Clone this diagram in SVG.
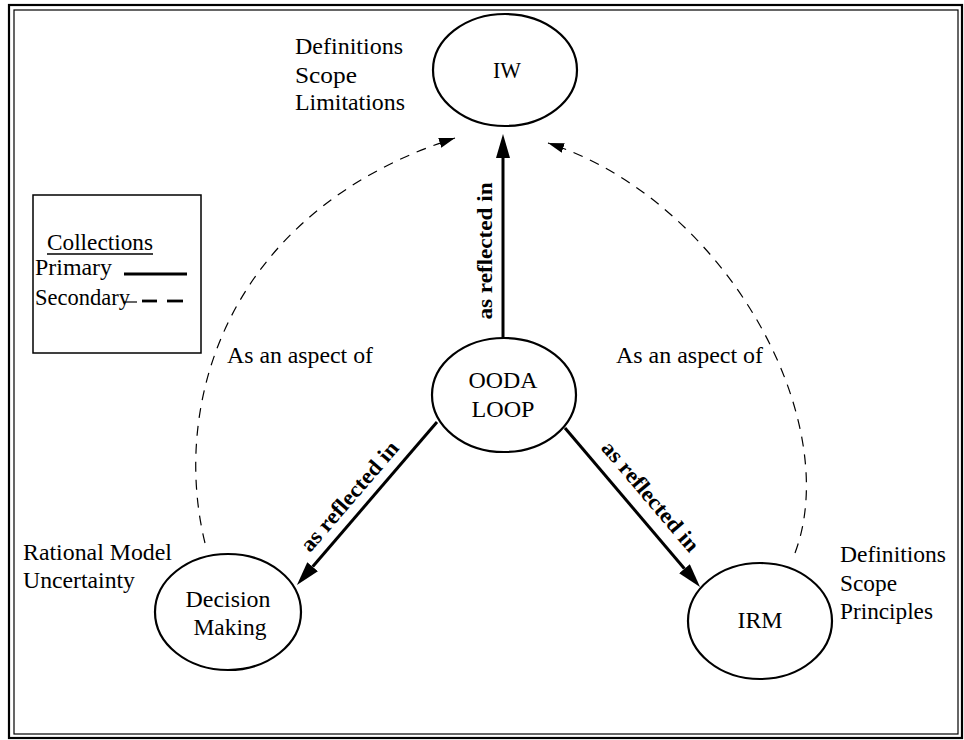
<svg xmlns="http://www.w3.org/2000/svg" width="964" height="740" viewBox="0 0 964 740">
<style>
  text { font-family: "Liberation Serif", "Times New Roman", Times, serif; font-size: 22.5px; fill: #000; }
  .lbl { font-weight: bold; font-size: 22px; }
  .node ellipse { fill: #fff; stroke: #000; stroke-width: 2.2; }
  .solid { fill: none; stroke: #000; stroke-width: 3; }
  .dash { fill: none; stroke: #000; stroke-width: 1.2; stroke-dasharray: 10 8; }
  .frame { fill: none; stroke: #000; }
</style>
<defs>
  <marker id="headSolid" markerUnits="userSpaceOnUse" markerWidth="26" markerHeight="16" refX="0" refY="7" orient="auto">
    <path d="M0,0 L24,7 L0,14 Z" fill="#000"/>
  </marker>
  <marker id="headDash" markerUnits="userSpaceOnUse" markerWidth="18" markerHeight="12" refX="16" refY="5" orient="auto">
    <path d="M0,0 L16,5 L0,10 Z" fill="#000"/>
  </marker>
</defs>
<rect width="964" height="740" fill="#fff"/>
<g id="frame">
  <rect class="frame" x="9" y="5" width="953" height="733" stroke-width="2.2"/>
  <rect class="frame" x="14" y="10" width="944" height="724" stroke-width="1.2"/>
</g>
<g id="legend">
  <rect x="33" y="195" width="168" height="158" fill="none" stroke="#000" stroke-width="1.5"/>
  <text x="47" y="250" textLength="106" lengthAdjust="spacingAndGlyphs">Collections</text>
  <line x1="47" y1="254" x2="153" y2="254" stroke="#000" stroke-width="1.5"/>
  <text x="35" y="275" textLength="77" lengthAdjust="spacingAndGlyphs">Primary</text>
  <line x1="124" y1="274" x2="187" y2="274" stroke="#000" stroke-width="2.8"/>
  <text x="35" y="305" textLength="95" lengthAdjust="spacingAndGlyphs">Secondary</text>
  <line x1="123" y1="302" x2="137" y2="302" stroke="#000" stroke-width="1.2"/>
  <line x1="142" y1="301" x2="157" y2="301" stroke="#000" stroke-width="2.8"/>
  <line x1="167" y1="301" x2="183" y2="301" stroke="#000" stroke-width="2.8"/>
</g>
<g id="connectors">
  <line class="solid" x1="503" y1="338" x2="503" y2="158" marker-end="url(#headSolid)"/>
  <line class="solid" x1="437" y1="422" x2="312.6" y2="566.8" marker-end="url(#headSolid)"/>
  <line class="solid" x1="565" y1="428" x2="684.5" y2="568.7" marker-end="url(#headSolid)"/>
  <path class="dash" d="M205,543 C170,400 230,210 455,138" marker-end="url(#headDash)"/>
  <path class="dash" d="M795,553 C845,420 725,200 548,143" marker-end="url(#headDash)"/>
  <text class="lbl" transform="translate(492,251) rotate(-90)" text-anchor="middle" textLength="137" lengthAdjust="spacingAndGlyphs">as reflected in</text>
  <text class="lbl" transform="translate(355,501) rotate(-49.3)" text-anchor="middle" textLength="138" lengthAdjust="spacingAndGlyphs">as reflected in</text>
  <text class="lbl" transform="translate(645,501) rotate(49.7)" text-anchor="middle" textLength="138" lengthAdjust="spacingAndGlyphs">as reflected in</text>
  <text x="227" y="363" textLength="146" lengthAdjust="spacingAndGlyphs">As an aspect of</text>
  <text x="616" y="363" textLength="147" lengthAdjust="spacingAndGlyphs">As an aspect of</text>
</g>
<g id="node-iw" class="node">
  <ellipse cx="505" cy="70" rx="72" ry="56"/>
  <text x="507" y="78" text-anchor="middle" textLength="28" lengthAdjust="spacingAndGlyphs">IW</text>
  <text x="295" y="54" textLength="108" lengthAdjust="spacingAndGlyphs">Definitions</text>
  <text x="295" y="83" textLength="62" lengthAdjust="spacingAndGlyphs">Scope</text>
  <text x="295" y="110" textLength="110" lengthAdjust="spacingAndGlyphs">Limitations</text>
</g>
<g id="node-ooda" class="node">
  <ellipse cx="504" cy="395" rx="72" ry="57"/>
  <text x="503" y="388" text-anchor="middle" textLength="69" lengthAdjust="spacingAndGlyphs">OODA</text>
  <text x="503" y="417" text-anchor="middle" textLength="63" lengthAdjust="spacingAndGlyphs">LOOP</text>
</g>
<g id="node-decision" class="node">
  <ellipse cx="228" cy="612" rx="73" ry="58"/>
  <text x="228" y="607" text-anchor="middle" textLength="85" lengthAdjust="spacingAndGlyphs">Decision</text>
  <text x="230" y="635" text-anchor="middle" textLength="73" lengthAdjust="spacingAndGlyphs">Making</text>
  <text x="23" y="560" textLength="149" lengthAdjust="spacingAndGlyphs">Rational Model</text>
  <text x="23" y="588" textLength="112" lengthAdjust="spacingAndGlyphs">Uncertainty</text>
</g>
<g id="node-irm" class="node">
  <ellipse cx="760" cy="621" rx="72" ry="58"/>
  <text x="760" y="628" text-anchor="middle" textLength="45" lengthAdjust="spacingAndGlyphs">IRM</text>
  <text x="840" y="562" textLength="106" lengthAdjust="spacingAndGlyphs">Definitions</text>
  <text x="840" y="591" textLength="57" lengthAdjust="spacingAndGlyphs">Scope</text>
  <text x="840" y="619" textLength="93" lengthAdjust="spacingAndGlyphs">Principles</text>
</g>
</svg>
